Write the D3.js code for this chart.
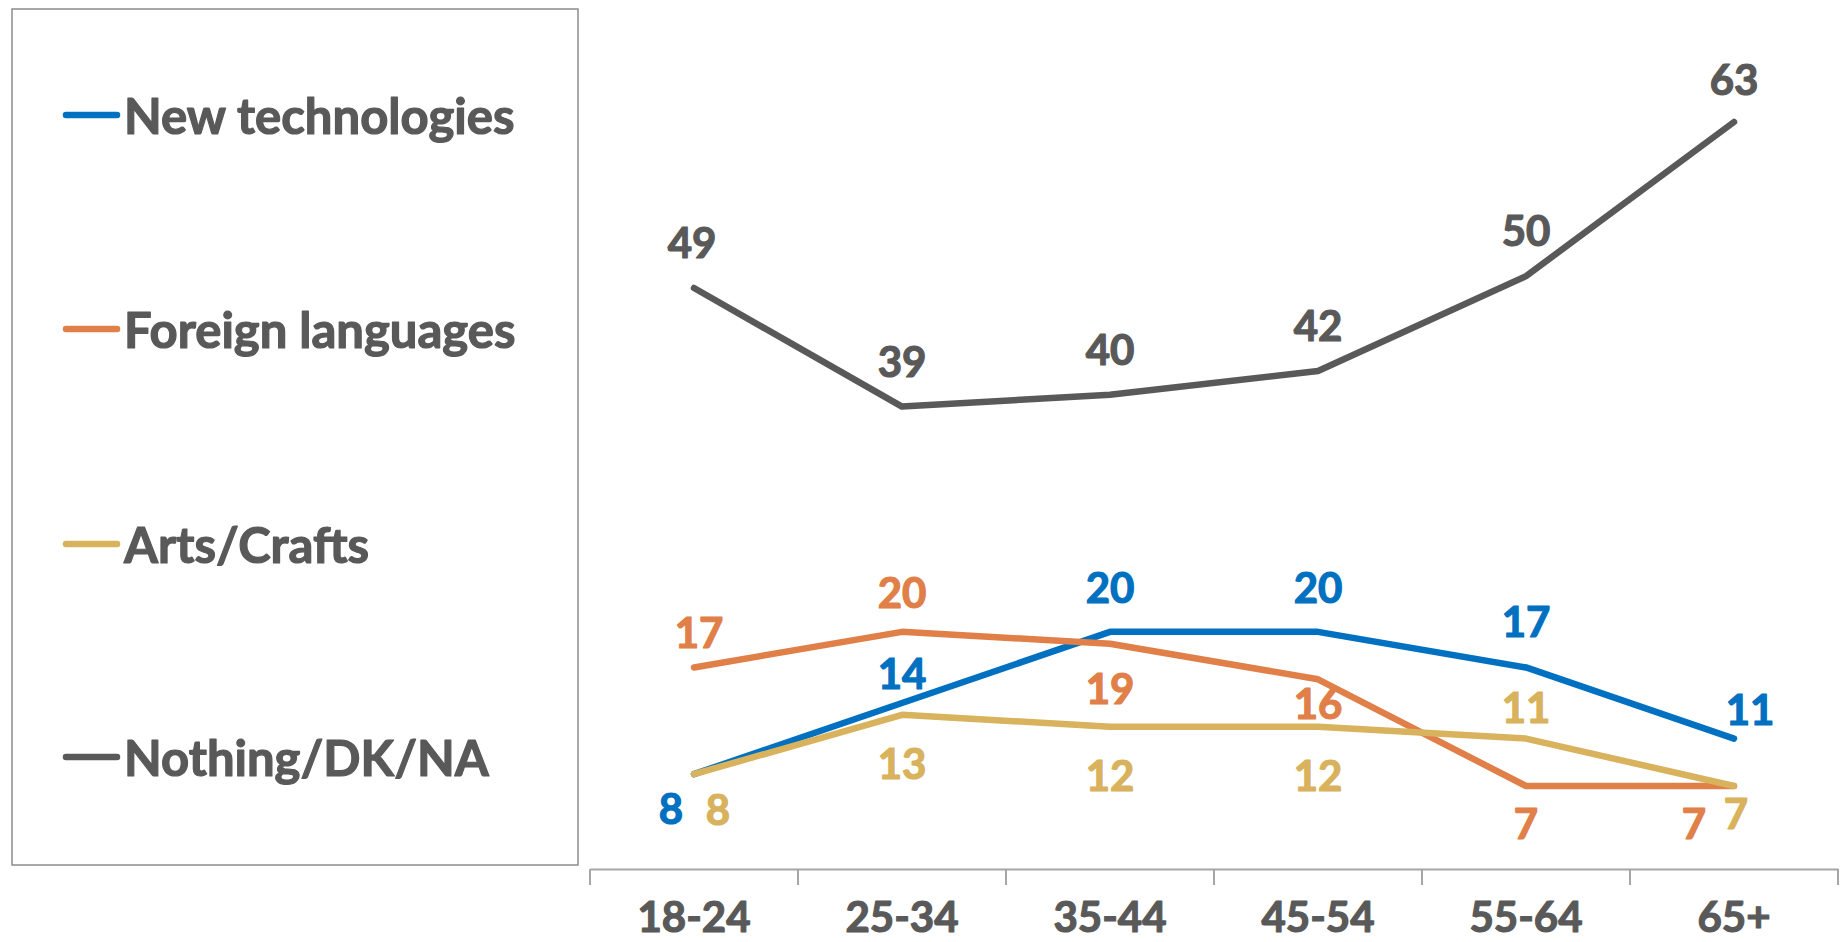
<!DOCTYPE html>
<html><head><meta charset="utf-8">
<script src="https://cdn.jsdelivr.net/npm/d3@7"></script>
<style>html,body{margin:0;padding:0;background:#fff;}svg{display:block;}</style>
</head><body>
<svg id="chart" width="1845" height="942"></svg>
<script>
const categories = ["18-24","25-34","35-44","45-54","55-64","65+"];
const seriesNames = ["New technologies","Foreign languages","Arts/Crafts","Nothing/DK/NA"];
const newTech = [8,14,20,20,17,11];
const foreignLang = [17,20,19,16,7,7];
const artsCrafts = [8,13,12,12,11,7];
const nothing = [49,39,40,42,50,63];

// styling / label placement (not data)
const colors = ["#0070C0","#E07F48","#D8B25C","#595959"];
const labelOffsets = [
  [[-23,34],[0,-30],[0,-45],[0,-45],[0,-46],[16,-30]],
  [[5,-35],[0,-40],[0,44],[0,24],[0,37],[-40,37]],
  [[24,35],[0,48],[0,48],[0,48],[0,-32],[2,27]],
  [[-2,-46],[0,-46],[0,-46],[0,-46],[0,-46],[0,-43]]
];
const seriesValues = [newTech, foreignLang, artsCrafts, nothing];
const FONT = "Lato, 'Open Sans', sans-serif";
const WEIGHT = 700;

const svg = d3.select("#chart");
const x = d3.scaleBand().domain(categories).range([590,1838]).paddingInner(0).paddingOuter(0);
const y = d3.scaleLinear().domain([0,70]).range([869,39]);
const cx = c => x(c) + x.bandwidth()/2;

function heavy(sel, color){
  sel.attr("fill",color).attr("stroke",color).attr("stroke-width",1.2).attr("stroke-linejoin","round");
}

// Legend box
svg.append("rect").attr("x",12).attr("y",9).attr("width",566).attr("height",856)
  .attr("fill","none").attr("stroke","#8c8c8c").attr("stroke-width",1.5);
const legendY = [115,329,544,757];
seriesNames.forEach((n,i)=>{
  svg.append("line").attr("x1",66).attr("x2",117).attr("y1",legendY[i]).attr("y2",legendY[i])
    .attr("stroke",colors[i]).attr("stroke-width",6.5).attr("stroke-linecap","round");
  svg.append("text").attr("x",124).attr("y",legendY[i]).attr("dominant-baseline","central")
    .attr("font-family",FONT).attr("font-weight",WEIGHT).attr("font-size",49).text(n)
    .call(heavy,"#595959");
});

// X axis
const axis = svg.append("g").attr("transform","translate(0,869)")
  .call(d3.axisBottom(x).tickSize(0).tickPadding(47));
axis.select(".domain").attr("stroke","#a6a6a6").attr("stroke-width",2);
axis.selectAll("text").attr("font-family",FONT).attr("font-weight",WEIGHT).attr("font-size",42)
  .attr("dy",null).attr("dominant-baseline","central").attr("y",47).call(heavy,"#595959");
const bounds = categories.map(c=>x(c)).concat([x(categories[categories.length-1])+x.bandwidth()]);
axis.selectAll("line.bt").data(bounds).enter().append("line").attr("class","bt")
  .attr("x1",d=>d).attr("x2",d=>d).attr("y1",0).attr("y2",16)
  .attr("stroke","#a6a6a6").attr("stroke-width",2);

// Lines
const line = d3.line().x((d,i)=>cx(categories[i])).y(d=>y(d));
seriesValues.forEach((vals,s)=>{
  svg.append("path").datum(vals).attr("d",line).attr("fill","none")
    .attr("stroke",colors[s]).attr("stroke-width",6.5)
    .attr("stroke-linecap","round").attr("stroke-linejoin","round");
});
// Labels
seriesValues.forEach((vals,s)=>{
  svg.append("g").selectAll("text").data(vals).enter().append("text")
    .attr("x",(d,i)=>cx(categories[i]) + labelOffsets[s][i][0])
    .attr("y",(d,i)=>y(d) + labelOffsets[s][i][1])
    .attr("text-anchor","middle").attr("dominant-baseline","central")
    .attr("font-family",FONT).attr("font-weight",WEIGHT).attr("font-size",42)
    .text(d=>d).call(heavy,colors[s]);
});
</script>
</body></html>
